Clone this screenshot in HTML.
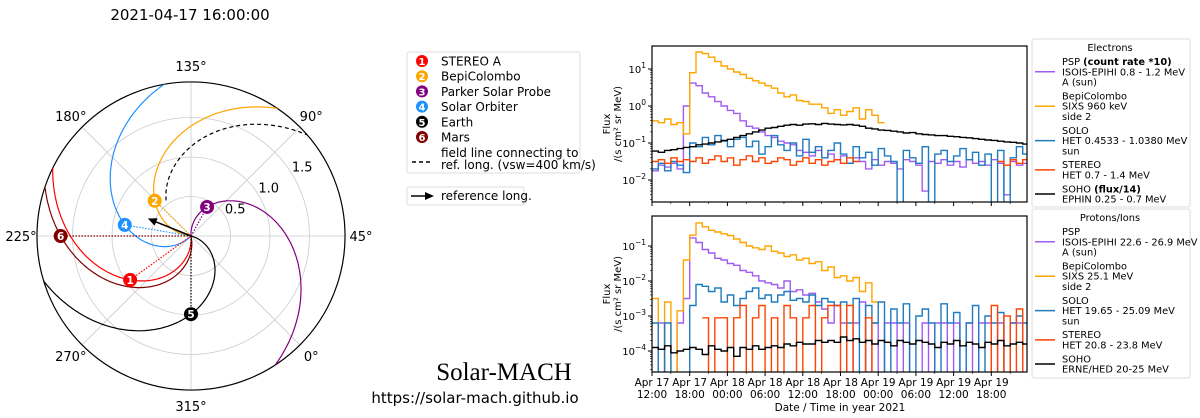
<!DOCTYPE html>
<html><head><meta charset="utf-8"><style>
body{margin:0;background:#fff;}
svg{display:block;font-family:"DejaVu Sans","Liberation Sans",sans-serif;}
</style></head><body>
<svg id="root" width="1200" height="418" viewBox="0 0 1200 418" xmlns="http://www.w3.org/2000/svg">
<text x="190" y="20" font-size="15" text-anchor="middle">2021-04-17 16:00:00</text>
<g id="polar"></g>
<g>
<rect x="407" y="52" width="173" height="121" rx="2" fill="#fff" stroke="#ddd"/>
<g id="bodyLeg" font-size="12"></g>
<line x1="412" y1="162" x2="433" y2="162" stroke="#000" stroke-width="1.5" stroke-dasharray="4,3"/>
<text x="441" y="157" font-size="12">field line connecting to</text>
<text x="441" y="169" font-size="12">ref. long. (vsw=400 km/s)</text>
</g>
<g>
<rect x="407" y="187" width="117" height="18" rx="2" fill="#fff" stroke="#ddd"/>
<line x1="411" y1="196" x2="428" y2="196" stroke="#000" stroke-width="1.5"/>
<path d="M434,196 L425,192 L425,200 Z" fill="#000"/>
<text x="441" y="200" font-size="12">reference long.</text>
</g>
<text x="504" y="380" font-size="25" font-family="Liberation Serif, serif" text-anchor="middle">Solar-MACH</text>
<text x="475" y="403" font-size="15" text-anchor="middle">https://solar-mach.github.io</text>
<g id="ts"></g>
</svg>
<script>
// ---- polar data ----
const bodyNames=["STEREO A","BepiColombo","Parker Solar Probe","Solar Orbiter","Earth","Mars"];
const bodyColors=["#ff0000","#ffa500","#800080","#1e90ff","#000000","#800000"];
const bodyR=[0.95,0.64,0.42,0.85,0.99,1.65];
const bodyLon=[260.8,180.8,106,215.5,315,225];
const bodyVsw=[368,374,296,356,300,368];
const refLon=203, refVsw=380;
const angleTicks=[0,45,90,135,180,225,270,315];
const ringTicks=[0.5,1.0,1.5];

// ---- time series data (log10 flux, -9 = zero, null = no data), hourly bins from Apr 17 12:00 ----
const elecBepi=[-0.40,-0.45,-0.35,-0.50,-0.45,-0.75,0.9,1.46,1.42,1.32,1.2,1.08,1.0,0.92,0.85,0.75,0.68,0.62,0.55,0.48,0.35,0.25,0.3,0.15,0.12,0.05,0.05,-0.05,-0.2,-0.1,-0.25,-0.15,-0.05,-0.35,-0.1,-0.25,-0.45];
const elecPsp=[-1.75,-1.6,-1.65,-1.55,-1.7,0.0,0.62,0.55,0.35,0.25,0.12,0.0,-0.12,-0.2,-0.4,-0.55,-0.6,-0.7,-0.8,-0.85,-0.95,-1.0,-1.05,-1.2,-1.25,-1.35,-1.2,-1.4,-1.3,-1.45,-1.35,-1.55,-1.4,-1.5,-1.7,-1.45,-1.6,-1.5,-1.55,-1.7,-1.45,-1.5,-1.6,-2.3,-1.5,-1.55,-1.45,-1.6,-1.5,-1.65,-1.45,-1.55,-1.5,-1.6,-1.45,-1.55,-2.4,-1.5,-1.6,-1.55];
const elecSolo=[-1.7,-1.55,-1.75,-1.5,-1.6,-1.8,-1.0,-1.1,-0.85,-1.05,-0.8,-0.95,-1.1,-0.9,-0.85,-1.1,-0.95,-1.3,-1.1,-0.8,-1.05,-1.2,-1.0,-1.35,-0.9,-1.25,-1.1,-1.4,-1.2,-1.0,-1.3,-1.55,-1.1,-1.4,-1.25,-1.6,-1.15,-1.35,-1.5,-9,-1.2,-1.4,-1.55,-1.1,-9,-1.3,-1.2,-1.5,-1.35,-1.15,-1.45,-1.25,-1.6,-1.3,-9,-1.2,-9,-1.4,-1.1,-1.3];
const elecStereo=[-1.5,-1.45,-1.55,-1.4,-1.5,-1.45,-1.5,-1.4,-1.55,-1.45,-1.35,-1.5,-1.4,-1.6,-1.45,-1.35,-1.5,-1.4,-1.55,-1.5,-1.4,-1.45,-1.6,-1.5,-1.4,-1.55,-1.45,-1.6,-1.5,-1.45,-1.55,-1.4,-1.5,null,null,null,null,null,null,null,null,null,null,null,null,null,null,null,null,null,null,null,null,null,null,-1.5,-1.6,-1.45,-1.55,-1.45];
const elecSoho=[-1.22,-1.25,-1.2,-1.18,-1.15,-1.12,-1.1,-1.05,-1.03,-1.0,-0.97,-0.93,-0.9,-0.85,-0.8,-0.75,-0.7,-0.65,-0.6,-0.58,-0.55,-0.52,-0.5,-0.52,-0.49,-0.48,-0.5,-0.47,-0.49,-0.5,-0.51,-0.5,-0.52,-0.55,-0.6,-0.62,-0.65,-0.66,-0.68,-0.7,-0.73,-0.72,-0.75,-0.77,-0.78,-0.8,-0.8,-0.82,-0.83,-0.85,-0.86,-0.88,-0.9,-0.92,-0.93,-0.95,-0.97,-0.98,-1.0,-1.03];
const protBepi=[-2.5,-9,-2.6,-9,-2.85,-1.4,-0.69,-0.34,-0.45,-0.55,-0.6,-0.65,-0.7,-0.8,-0.9,-1.0,-1.05,-1.1,-1.0,-1.15,-1.2,-1.3,-1.25,-1.4,-1.35,-1.5,-1.45,-1.7,-1.6,-1.9,-1.85,-2.0,-1.9,-2.3,-2.05,-2.6];
const protPsp=[-9,-3.2,-9,-9,-3.2,-2.5,-0.77,-0.9,-1.1,-1.2,-1.35,-1.4,-1.5,-1.55,-1.7,-1.75,-1.85,-2.0,-2.05,-2.1,-2.2,-2.0,-2.3,-2.25,-2.4,-2.35,-2.6,-2.8,-3.2,-2.7,-3.2,-9,-3.2,-2.6,-9,-3.2,-9,-3.2,-3.2,-9,-3.2,-9,-9,-3.2,-9,-3.2,-3.2,-9,-3.2,-9,-3.2,-9,-3.2,-3.2,-9,-3.2,-9,-3.2,-3.2,-9];
const protSolo=[-3.2,-9,-3.2,-9,-9,-9,-2.7,-2.1,-2.15,-2.3,-2.2,-2.6,-2.4,-2.7,-2.5,-2.3,-2.2,-2.5,-2.4,-2.6,-2.4,-2.3,-2.55,-2.5,-2.6,-2.4,-2.7,-2.5,-2.6,-2.7,-2.6,-3.2,-2.5,-9,-2.7,-3.2,-2.6,-9,-2.8,-3.2,-2.65,-9,-3.0,-2.8,-3.2,-9,-2.65,-3.2,-2.9,-9,-3.2,-2.7,-9,-3.0,-3.2,-2.9,-9,-3.2,-3.0,-3.2];
const protStereo=[null,null,null,null,null,null,null,null,-3.05,-9,-3.05,-3.05,-9,-3.05,-2.7,-9,-3.05,-2.7,-9,-3.05,-9,-2.7,-3.05,-9,-3.05,-2.7,-9,-3.05,-2.7,-2.7,-9,-2.7,-9,-9,-3.05,-9,-9,-9,-9,-9,-9,-9,-9,-9,-9,-9,-9,-9,-9,-9,-9,-9,-9,-9,-2.7,-9,-3.0,-9,-2.8,-9];
const protSoho=[-3.9,-3.95,-3.85,-4.05,-4.0,-3.95,-3.9,-3.95,-4.1,-3.85,-3.95,-4.0,-3.9,-4.15,-3.9,-3.95,-3.85,-3.95,-3.9,-3.85,-3.9,-3.8,-3.85,-3.75,-3.8,-3.8,-3.7,-3.75,-3.7,-3.75,-3.6,-3.7,-3.65,-3.75,-3.7,-3.8,-3.7,-3.75,-3.85,-3.7,-3.75,-3.8,-3.7,-3.75,-3.8,-3.9,-3.75,-3.8,-3.7,-3.85,-3.75,-3.8,-3.9,-3.75,-3.8,-3.7,-3.85,-3.8,-3.75,-3.8];
const xTickTop=["Apr 17","Apr 17","Apr 18","Apr 18","Apr 18","Apr 18","Apr 19","Apr 19","Apr 19","Apr 19"];
const xTickBot=["12:00","18:00","00:00","06:00","12:00","18:00","00:00","06:00","12:00","18:00"];
const elecTicks=[1,0,-1,-2];
const protTicks=[-1,-2,-3,-4];

const NS="http://www.w3.org/2000/svg";
function mk(tag,attrs,parent){const e=document.createElementNS(NS,tag);for(const k in attrs)e.setAttribute(k,attrs[k]);parent.appendChild(e);return e;}

// ---- polar ----
const P=document.getElementById('polar');
const cx=191,cy=236,scale=79,rmax=1.95,Rout=rmax*scale;
function pxy(r,lon){const a=(lon-45)*Math.PI/180;return [cx+r*scale*Math.cos(a),cy-r*scale*Math.sin(a)];}
const defs=mk('defs',{},P);
const cp=mk('clipPath',{id:'pc'},defs);mk('circle',{cx:cx,cy:cy,r:Rout},cp);
ringTicks.forEach(r=>{const c=mk('circle',{cx:cx,cy:cy,r:r*scale,fill:'none',stroke:'#ccc','stroke-width':0.8},P);


const p=pxy(r+0.16,77);const t=mk('text',{x:p[0],y:p[1]+5,'font-size':13,'text-anchor':'middle'},P);t.textContent=r.toFixed(1);

});
angleTicks.forEach(a=>{const p=pxy(rmax,a);const l=mk('line',{x1:cx,y1:cy,x2:p[0],y2:p[1],stroke:'#ccc','stroke-width':0.8},P);


const q=pxy(170/scale,a);const t=mk('text',{x:q[0],y:q[1]+5,'font-size':13,'text-anchor':'middle'},P);t.textContent=a+'°';

});
const outer=mk('circle',{cx:cx,cy:cy,r:Rout,fill:'none',stroke:'#000','stroke-width':1.2},P);


const SG=mk('g',{'clip-path':'url(#pc)'},P);
function spiral(r0,lon0,vsw,rstart){const k=22800/vsw;let d='';for(let r=rstart;r<=rmax+0.05;r+=0.01){const p=pxy(r,lon0+k*(r0-r));d+=(d?'L':'M')+p[0].toFixed(1)+','+p[1].toFixed(1);}return d;}
bodyNames.forEach((n,i)=>{
const s=mk('path',{d:spiral(bodyR[i],bodyLon[i],bodyVsw[i],0),fill:'none',stroke:bodyColors[i],'stroke-width':1.2},SG);


const p=pxy(bodyR[i],bodyLon[i]);
const d=mk('line',{x1:cx,y1:cy,x2:p[0],y2:p[1],stroke:bodyColors[i],'stroke-width':1.2,'stroke-dasharray':'1.5,1.5'},P);


});
const ds=mk('path',{d:spiral(0,refLon,refVsw,0.55),fill:'none',stroke:'#000','stroke-width':1.2,'stroke-dasharray':'4,3'},SG);


(function(){const tip=pxy(0.59,refLon);const a=(refLon-45)*Math.PI/180;const ux=Math.cos(a),uy=-Math.sin(a);
const b=[tip[0]-ux*9,tip[1]-uy*9];
const l=mk('line',{x1:cx,y1:cy,x2:b[0],y2:b[1],stroke:'#000','stroke-width':1.5},P);


const h=mk('path',{d:`M${tip[0]},${tip[1]} L${b[0]-uy*4},${b[1]+ux*4} L${b[0]+uy*4},${b[1]-ux*4} Z`,fill:'#000'},P);

})();
bodyNames.forEach((n,i)=>{const p=pxy(bodyR[i],bodyLon[i]);
const g=mk('g',{},P);


mk('circle',{cx:p[0],cy:p[1],r:7,fill:bodyColors[i]},g);
const t=mk('text',{x:p[0],y:p[1]+4,'font-size':10.5,'font-weight':'bold',fill:'#fff','text-anchor':'middle'},g);t.textContent=i+1;});
// body legend
const BL=document.getElementById('bodyLeg');
bodyNames.forEach((n,i)=>{const y=61+i*15.2;const g=mk('g',{},BL);


mk('circle',{cx:422,cy:y,r:6,fill:bodyColors[i]},g);
const a=mk('text',{x:422,y:y+4,'font-size':10,'font-weight':'bold',fill:'#fff','text-anchor':'middle'},g);a.textContent=i+1;
const t=mk('text',{x:441,y:y+4.5},g);t.textContent=n;});

// ---- time series ----
const T=document.getElementById('ts');
const X0=652,X1=1027,pxPerH=37.7/6;
function xh(h){return X0+h*pxPerH;}
const panels=[
 {top:46,bot:202,y0:106,dec:37,ticks:elecTicks,series:[[elecPsp,'#a05cf0'],[elecBepi,'#ffa500'],[elecSolo,'#1f7bbf'],[elecStereo,'#ff4500'],[elecSoho,'#000']],name:'electron-panel',labelY:124},
 {top:216,bot:372,y0:211,dec:35,ticks:protTicks,series:[[protPsp,'#a05cf0'],[protBepi,'#ffa500'],[protSolo,'#1f7bbf'],[protStereo,'#ff4500'],[protSoho,'#000']],name:'proton-panel',labelY:294}
];
panels.forEach((pn,pi)=>{
 const g=mk('g',{},T);
 
 
 const yv=l=>pn.y0-pn.dec*l;
 const cid='clip'+pi;const c=mk('clipPath',{id:cid},defs);mk('rect',{x:X0,y:pn.top,width:X1-X0,height:pn.bot-pn.top},c);
 const sg=mk('g',{'clip-path':'url(#'+cid+')'},g);
 pn.series.forEach((s,si)=>{const arr=s[0];let d='';let on=false;
  arr.forEach((v,h)=>{if(v===null){on=false;return;}let y=Math.min(yv(v),pn.bot+2);
   if(!on){d+=`M${xh(h).toFixed(1)},${y.toFixed(1)}`;on=true;}else d+=`V${y.toFixed(1)}`;
   d+=`H${xh(h+1).toFixed(1)}`;});
  const p=mk('path',{d:d,fill:'none',stroke:s[1],'stroke-width':1.4},sg);
  
  });
 const fr=mk('rect',{x:X0,y:pn.top,width:X1-X0,height:pn.bot-pn.top,fill:'none',stroke:'#000','stroke-width':1.2},g);
 
 
 pn.ticks.forEach(e=>{const y=yv(e);mk('line',{x1:X0-4,y1:y,x2:X0,y2:y,stroke:'#000'},g);
  for(let m=2;m<10;m++){const ym=yv(e-1+Math.log10(m));if(ym>pn.top&&ym<pn.bot)mk('line',{x1:X0-2,y1:ym,x2:X0,y2:ym,stroke:'#000','stroke-width':0.6},g);}
  const t=mk('text',{x:X0-6,y:y+4,'font-size':10,'text-anchor':'end'},g);
  
  
  t.appendChild(document.createTextNode('10'));const sp=mk('tspan',{dy:-5,'font-size':7.5},t);sp.textContent=(e<0?'−':'')+Math.abs(e);});
 for(let i=0;i<10;i++){const x=xh(i*6);mk('line',{x1:x,y1:pn.bot,x2:x,y2:pn.bot+4,stroke:'#000'},g);
  mk('line',{x1:x+pxPerH*3,y1:pn.bot,x2:x+pxPerH*3,y2:pn.bot+2,stroke:'#000','stroke-width':0.6},g);}
 const yl=mk('text',{transform:`translate(610,${pn.labelY}) rotate(-90)`,'font-size':10,'text-anchor':'middle'},g);
 
 
 yl.textContent='Flux';
 const yl2=mk('text',{transform:`translate(621,${pn.labelY}) rotate(-90)`,'font-size':10,'text-anchor':'middle'},g);yl2.textContent='/(s cm² sr MeV)';
});
xTickTop.forEach((t,i)=>{const x=xh(i*6);
 const a=mk('text',{x:x,y:386,'font-size':10.5,'text-anchor':'middle'},T);a.textContent=t;
 
 
 const b=mk('text',{x:x,y:398,'font-size':10.5,'text-anchor':'middle'},T);b.textContent=xTickBot[i];});
const xl=mk('text',{x:840,y:411,'font-size':10.5,'text-anchor':'middle'},T);xl.textContent='Date / Time in year 2021';



// ---- right legends ----
const legs=[
 {y:39,h:168,title:'Electrons',rows:[
  [['PSP ',['(count rate  *10)']],'ISOIS-EPIHI 0.8 - 1.2 MeV','A (sun)'],
  [['BepiColombo'],'SIXS 960 keV','side 2'],
  [['SOLO'],'HET 0.4533 - 1.0380 MeV','sun'],
  [['STEREO'],'HET 0.7 - 1.4 MeV'],
  [['SOHO ',['(flux/14)']],'EPHIN 0.25 - 0.7 MeV']]},
 {y:209,h:169,title:'Protons/Ions',rows:[
  [['PSP'],'ISOIS-EPIHI 22.6 - 26.9 MeV','A (sun)'],
  [['BepiColombo'],'SIXS 25.1 MeV','side 2'],
  [['SOLO'],'HET 19.65 - 25.09 MeV','sun'],
  [['STEREO'],'HET 20.8 - 23.8 MeV'],
  [['SOHO'],'ERNE/HED 20-25 MeV']]}];
const lcols=['#a05cf0','#ffa500','#1f7bbf','#ff4500','#000'];
legs.forEach((L,li)=>{const g=mk('g',{'font-size':9.8},T);
 
 
 mk('rect',{x:1032,y:L.y,width:158,height:L.h,rx:2,fill:'#fff',stroke:'#ddd'},g);
 const tt=mk('text',{x:1110,y:L.y+12,'text-anchor':'middle'},g);tt.textContent=L.title;
 let y=L.y+26;
 L.rows.forEach((r,ri)=>{const n=r.length;const mid=y+(n-1)*10.3/2-3.5;
  const e=mk('g',{},g);
  
  
  mk('line',{x1:1035,y1:mid,x2:1055,y2:mid,stroke:lcols[ri],'stroke-width':1.5},e);
  const t0=mk('text',{x:1062,y:y},e);t0.appendChild(document.createTextNode(r[0][0]));
  if(r[0][1]){const b=mk('tspan',{'font-weight':'bold'},t0);b.textContent=r[0][1][0];}
  for(let k=1;k<n;k++){const t=mk('text',{x:1062,y:y+k*10.3},e);t.textContent=r[k];}
  y+=n*10.3+3.5;});
});
</script>
</body></html>
